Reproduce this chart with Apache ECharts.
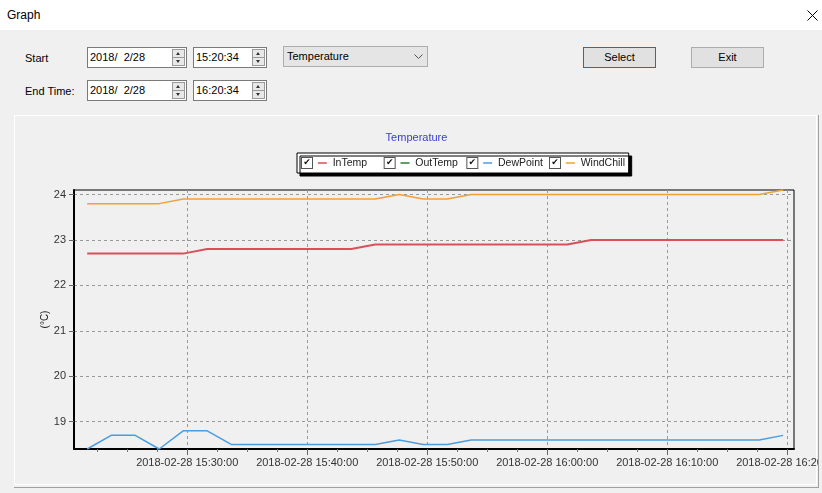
<!DOCTYPE html>
<html><head><meta charset="utf-8">
<script src="https://cdn.jsdelivr.net/npm/echarts@6/dist/echarts.min.js"></script>
<style>
html,body{margin:0;padding:0;}
body{width:822px;height:493px;background:#f0f0f0;position:relative;overflow:hidden;font-family:"Liberation Sans",Arial,sans-serif;font-size:11px;color:#000;}
#titlebar{position:absolute;left:0;top:0;width:822px;height:30px;background:#fff;}
.lbl{position:absolute;font-size:11px;line-height:14px;white-space:nowrap;}
.field{position:absolute;height:19px;background:#fff;border:1px solid #7a7a7a;}
.field span{position:absolute;left:2px;top:2px;line-height:15px;font-size:11px;white-space:pre;}
.spin{position:absolute;right:1px;top:1px;width:13px;height:17px;}
.spin div{position:absolute;left:0;width:11px;height:7px;border:1px solid #9a9a9a;background:#e8e8e8;}
.spin .up{top:0}.spin .dn{top:8px}
.tri{position:absolute;left:3px;width:0;height:0;border-left:2.5px solid transparent;border-right:2.5px solid transparent;}
.up .tri{top:2px;border-bottom:3px solid #333;}
.dn .tri{top:2px;border-top:3px solid #333;}
.btn{position:absolute;height:19px;width:71px;background:#e1e1e1;border:1px solid #adadad;text-align:center;line-height:19px;font-size:11px;}
#combo{position:absolute;left:283px;top:46px;width:143px;height:19px;background:#e5e5e5;border:1px solid #adadad;}
#combo span{position:absolute;left:3px;top:2px;line-height:15px;}
#panelOuter{position:absolute;left:14px;top:115px;width:804px;height:372px;border-right:1px solid #a0a0a0;border-bottom:1px solid #a0a0a0;}
#panel{position:absolute;left:14px;top:115px;width:801px;height:368px;border:1px solid #fff;}
#chart{position:absolute;left:15px;top:116px;width:803px;height:368px;}
</style>
</head>
<body>
<div id="titlebar"></div>
<div class="lbl" style="left:7px;top:8px;font-size:12px;">Graph</div>
<svg style="position:absolute;left:807px;top:10px" width="11" height="11"><path d="M0.5,0.5L10.5,10.5M10.5,0.5L0.5,10.5" stroke="#000" stroke-width="1"/></svg>

<div class="lbl" style="left:25px;top:51px;">Start</div>
<div class="field" style="left:87px;top:47px;width:98px;"><span>2018/  2/28</span><div class="spin"><div class="up"><i class="tri"></i></div><div class="dn"><i class="tri"></i></div></div></div>
<div class="field" style="left:193px;top:47px;width:72px;"><span>15:20:34</span><div class="spin"><div class="up"><i class="tri"></i></div><div class="dn"><i class="tri"></i></div></div></div>
<div id="combo"><span>Temperature</span><svg style="position:absolute;left:130px;top:7px" width="9" height="6"><path d="M0.5,0.5L4.5,4.5L8.5,0.5" fill="none" stroke="#555" stroke-width="1"/></svg></div>
<div class="btn" style="left:583px;top:47px;border-color:#0078d7;">Select</div>
<div class="btn" style="left:691px;top:47px;">Exit</div>

<div class="lbl" style="left:25px;top:84px;">End Time:</div>
<div class="field" style="left:87px;top:80px;width:98px;"><span>2018/  2/28</span><div class="spin"><div class="up"><i class="tri"></i></div><div class="dn"><i class="tri"></i></div></div></div>
<div class="field" style="left:193px;top:80px;width:72px;"><span>16:20:34</span><div class="spin"><div class="up"><i class="tri"></i></div><div class="dn"><i class="tri"></i></div></div></div>

<div id="panelOuter"></div>
<div id="panel"></div>
<div id="chart"></div>

<script>
// ---- data ----
const chartTitle = 'Temperature';
const startTime = '15:20:34';
const endTime = '16:20:34';
const seriesNames = ['InTemp', 'OutTemp', 'DewPoint', 'WindChill'];
const seriesColors = ['#d9505a', '#2e7d32', '#4a9de0', '#f0a035'];
const sampleTimes = ['15:21:40','15:23:40','15:25:40','15:27:40','15:29:40','15:31:40','15:33:40','15:35:40','15:37:40','15:39:40',
                     '15:41:40','15:43:40','15:45:40','15:47:40','15:49:40','15:51:40','15:53:40','15:55:40','15:57:40','15:59:40',
                     '16:01:40','16:03:40','16:05:40','16:07:40','16:09:40','16:11:40','16:13:40','16:15:40','16:17:40','16:19:40'];
const inTemp    = [22.7,22.7,22.7,22.7,22.7,22.8,22.8,22.8,22.8,22.8,22.8,22.8,22.9,22.9,22.9,22.9,22.9,22.9,22.9,22.9,22.9,23.0,23.0,23.0,23.0,23.0,23.0,23.0,23.0,23.0];
const outTemp   = [];
const dewPoint  = [18.4,18.7,18.7,18.4,18.8,18.8,18.5,18.5,18.5,18.5,18.5,18.5,18.5,18.6,18.5,18.5,18.6,18.6,18.6,18.6,18.6,18.6,18.6,18.6,18.6,18.6,18.6,18.6,18.6,18.7];
const windChill = [23.8,23.8,23.8,23.8,23.9,23.9,23.9,23.9,23.9,23.9,23.9,23.9,23.9,24.0,23.9,23.9,24.0,24.0,24.0,24.0,24.0,24.0,24.0,24.0,24.0,24.0,24.0,24.0,24.0,24.1];
const xMajorTicks = ['15:30:00','15:40:00','15:50:00','16:00:00','16:10:00','16:20:00'];
const xMinorTicks = ['15:22:30','15:25:00','15:27:30','15:32:30','15:35:00','15:37:30','15:42:30','15:45:00','15:47:30',
                     '15:52:30','15:55:00','15:57:30','16:02:30','16:05:00','16:07:30','16:12:30','16:15:00','16:17:30'];
const yTicks = [19, 20, 21, 22, 23, 24];
const yMin = 18.4, yMax = 24.1;
const yName = '(°C)';

// ---- helpers ----
function ts(t) { const p = t.split(':').map(Number); return new Date(2018, 1, 28, p[0], p[1], p[2]).getTime(); }
function pad(n) { return (n < 10 ? '0' : '') + n; }
function fmt(v) {
  const d = new Date(v);
  return d.getFullYear() + '-' + pad(d.getMonth() + 1) + '-' + pad(d.getDate()) + ' ' +
         pad(d.getHours()) + ':' + pad(d.getMinutes()) + ':' + pad(d.getSeconds());
}
const FONT = '"Liberation Sans", Arial, sans-serif';
const LEG_FONT_SIZE = 10.5;
const values = [inTemp, outTemp, dewPoint, windChill];
const widths = [2, 1.5, 1.5, 1.5];

// measure legend names so every legend column has the same width (left-aligned text)
const mctx = document.createElement('canvas').getContext('2d');
mctx.font = LEG_FONT_SIZE + 'px ' + FONT;
const colTextWidth = 47;

const rich = {
  cb: { width: 10, height: 10, borderColor: '#555', borderWidth: 1, backgroundColor: '#fff', align: 'center',
        fontSize: 9, lineHeight: 10, color: '#111', fontFamily: 'DejaVu Sans' },
  t: { fontSize: LEG_FONT_SIZE, color: '#222', fontFamily: FONT }
};
seriesColors.forEach((c, i) => {
  rich['d' + i] = { width: 9, height: 1.5, backgroundColor: c };
  const w = mctx.measureText(seriesNames[i]).width;
  rich['g' + i] = { width: Math.max(1, colTextWidth - w), height: 1 };
});

const chart = echarts.init(document.getElementById('chart'));
chart.setOption({
  animation: false,
  backgroundColor: 'transparent',
  title: {
    text: chartTitle, left: 'center', top: 16, padding: 0,
    textStyle: { color: '#3b3bd8', fontSize: 11, fontWeight: 'normal', fontFamily: FONT }
  },
  legend: {
    left: 282, top: 37,
    padding: [4, 1, 4, 0],
    itemGap: 0, itemWidth: 0, itemHeight: 0, icon: 'rect',
    backgroundColor: '#fff', borderColor: '#000', borderWidth: 1,
    shadowColor: '#000', shadowOffsetX: 3, shadowOffsetY: 3, shadowBlur: 0,
    data: seriesNames,
    formatter: function (name) {
      const i = seriesNames.indexOf(name);
      return '{cb|✔}  {d' + i + '|}  {t|' + name + '}{g' + i + '|}';
    },
    textStyle: { fontSize: LEG_FONT_SIZE, lineHeight: 12, color: '#222', fontFamily: FONT, rich: rich }
  },
  grid: { left: 59, right: 24, top: 74, bottom: 35, outerBoundsMode: 'none', containLabel: false,
          show: true, borderColor: '#000', borderWidth: 1, backgroundColor: 'transparent' },
  xAxis: [{
    type: 'value', position: 'bottom', min: ts(startTime), max: ts(endTime),
    axisLine: { onZero: false, lineStyle: { color: '#000', width: 2 } },
    axisTick: { show: true, customValues: xMajorTicks.map(ts), length: 6, lineStyle: { color: '#666' } },
    axisLabel: { customValues: xMajorTicks.map(ts), formatter: fmt, fontSize: 11, color: '#333', margin: 8, fontFamily: FONT },
    splitLine: { show: true, lineStyle: { color: '#999', width: 1, type: [3, 3] } }
  }, {
    type: 'value', position: 'bottom', min: ts(startTime), max: ts(endTime),
    axisLine: { show: false, onZero: false },
    axisTick: { show: true, customValues: xMinorTicks.map(ts), length: 3, lineStyle: { color: '#777' } },
    axisLabel: { show: false },
    splitLine: { show: false }
  }],
  yAxis: {
    type: 'value', min: yMin, max: yMax,
    name: yName, nameLocation: 'middle', nameGap: 24, nameMoveOverlap: false,
    nameTextStyle: { fontSize: 10, color: '#222', fontFamily: FONT },
    axisLine: { show: true, onZero: false, lineStyle: { color: '#000', width: 2 } },
    axisTick: { show: true, customValues: yTicks, length: 5, lineStyle: { color: '#666' } },
    axisLabel: { customValues: yTicks, margin: 8, fontSize: 11, color: '#333', fontFamily: FONT },
    splitLine: { show: true, lineStyle: { color: '#999', width: 1, type: [3, 3] } }
  },
  series: seriesNames.map((n, i) => ({
    name: n, type: 'line', xAxisIndex: 0,
    data: values[i].map((v, k) => [ts(sampleTimes[k]), v]),
    showSymbol: false, symbol: 'none', clip: false,
    lineStyle: { color: seriesColors[i], width: widths[i] },
    itemStyle: { color: seriesColors[i] },
    emphasis: { disabled: true }
  }))
});
</script>
</body></html>
